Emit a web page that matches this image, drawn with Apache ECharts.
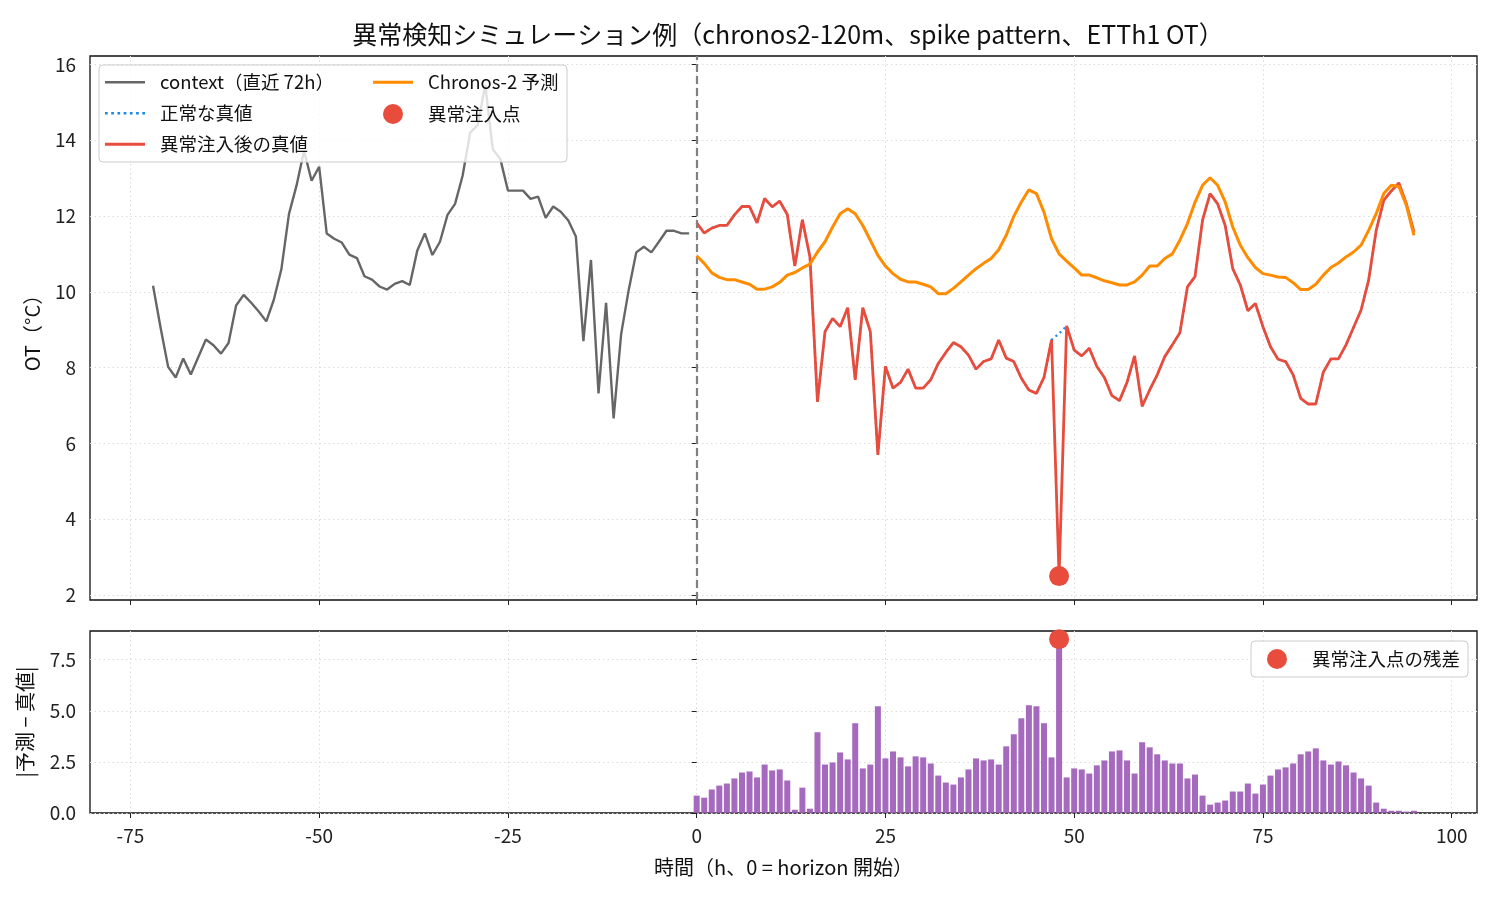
<!DOCTYPE html>
<html lang="ja">
<head>
    <meta charset="UTF-8">
    <title>異常検知シミュレーション例</title>
    <script src="https://cdn.jsdelivr.net/npm/echarts@6.0.0/dist/echarts.min.js"></script>
    <style>
        html, body { margin: 0; padding: 0; background: #fff; }
        #chart { width: 1500px; height: 900px; }
    </style>
</head>
<body>
<div id="chart"></div>
<script>
    // context: 直近 72h (x = -72 .. -1)
    var contextStart = -72
    var contextValues = [
        10.16, 9.05, 8.02, 7.74, 8.24, 7.82, 8.28, 8.74, 8.59, 8.37,
        8.65, 9.64, 9.92, 9.71, 9.48, 9.22, 9.79, 10.6, 12.05, 12.8,
        13.72, 12.93, 13.3, 11.54, 11.4, 11.3, 10.98, 10.89, 10.41, 10.32,
        10.14, 10.06, 10.21, 10.28, 10.18, 11.09, 11.54, 10.97, 11.32, 12.03,
        12.32, 13.06, 14.2, 14.4, 15.45, 13.76, 13.5, 12.67, 12.67, 12.67,
        12.45, 12.51, 11.95, 12.25, 12.11, 11.88, 11.46, 8.70, 10.84, 7.32,
        9.71, 6.66, 8.89, 10.05, 11.04, 11.19, 11.04, 11.32, 11.61, 11.61,
        11.54, 11.54
    ]
    // horizon: x = 0 .. 95
    var normalTruth = [
        11.82, 11.55, 11.68, 11.75, 11.75, 12.03, 12.25, 12.25, 11.82, 12.46,
        12.24, 12.39, 12.04, 10.68, 11.9, 10.92, 7.1, 8.95, 9.3, 9.08,
        9.58, 7.68, 9.58, 8.95, 5.7, 8.03, 7.46, 7.61, 7.96, 7.46,
        7.46, 7.68, 8.11, 8.4, 8.66, 8.55, 8.33, 7.96, 8.16, 8.23,
        8.73, 8.25, 8.16, 7.72, 7.41, 7.32, 7.74, 8.73, 8.9, 9.1,
        8.46, 8.31, 8.51, 8.03, 7.74, 7.26, 7.13, 7.61, 8.31, 6.98,
        7.41, 7.81, 8.29, 8.6, 8.92, 10.13, 10.4, 11.89, 12.59, 12.32,
        11.75, 10.61, 10.18, 9.5, 9.69, 9.08, 8.55, 8.22, 8.16, 7.81,
        7.19, 7.04, 7.04, 7.88, 8.23, 8.23, 8.6, 9.06, 9.52, 10.31,
        11.62, 12.41, 12.66, 12.87, 12.32, 11.58
    ]
    var injectedTruth = [
        11.82, 11.55, 11.68, 11.75, 11.75, 12.03, 12.25, 12.25, 11.82, 12.46,
        12.24, 12.39, 12.04, 10.68, 11.9, 10.92, 7.1, 8.95, 9.3, 9.08,
        9.58, 7.68, 9.58, 8.95, 5.7, 8.03, 7.46, 7.61, 7.96, 7.46,
        7.46, 7.68, 8.11, 8.4, 8.66, 8.55, 8.33, 7.96, 8.16, 8.23,
        8.73, 8.25, 8.16, 7.72, 7.41, 7.32, 7.74, 8.73, 2.5, 9.1,
        8.46, 8.31, 8.51, 8.03, 7.74, 7.26, 7.13, 7.61, 8.31, 6.98,
        7.41, 7.81, 8.29, 8.6, 8.92, 10.13, 10.4, 11.89, 12.59, 12.32,
        11.75, 10.61, 10.18, 9.5, 9.69, 9.08, 8.55, 8.22, 8.16, 7.81,
        7.19, 7.04, 7.04, 7.88, 8.23, 8.23, 8.6, 9.06, 9.52, 10.31,
        11.62, 12.41, 12.66, 12.87, 12.32, 11.58
    ]
    var forecast = [
        10.95, 10.75, 10.5, 10.38, 10.32, 10.32, 10.26, 10.2, 10.07, 10.07,
        10.13, 10.25, 10.44, 10.51, 10.63, 10.73, 11.05, 11.32, 11.71, 12.06,
        12.19, 12.06, 11.75, 11.36, 10.96, 10.68, 10.48, 10.33, 10.26, 10.26,
        10.2, 10.13, 9.95, 9.95, 10.09, 10.26, 10.44, 10.61, 10.75, 10.88,
        11.11, 11.49, 11.99, 12.37, 12.69, 12.59, 12.1, 11.4, 11.0, 10.81,
        10.63, 10.44, 10.44, 10.37, 10.29, 10.24, 10.18, 10.18, 10.26, 10.44,
        10.68, 10.68, 10.88, 11.0, 11.36, 11.8, 12.36, 12.81, 13.01, 12.81,
        12.37, 11.71, 11.23, 10.9, 10.64, 10.48, 10.44, 10.39, 10.38, 10.24,
        10.06, 10.06, 10.2, 10.44, 10.64, 10.76, 10.92, 11.05, 11.23, 11.62,
        12.06, 12.59, 12.81, 12.78, 12.28, 11.49
    ]
    var residual = [
        0.85, 0.75, 1.15, 1.34, 1.44, 1.69, 1.98, 2.03, 1.74, 2.37,
        2.08, 2.13, 1.59, 0.16, 1.24, 0.21, 3.95, 2.37, 2.47, 2.96,
        2.62, 4.39, 2.18, 2.37, 5.22, 2.67, 3.01, 2.72, 2.28, 2.77,
        2.72, 2.42, 1.83, 1.49, 1.39, 1.74, 2.13, 2.67, 2.57, 2.62,
        2.37, 3.26, 3.85, 4.63, 5.27, 5.22, 4.39, 2.72, 8.5, 1.74,
        2.18, 2.13, 1.93, 2.33, 2.57, 3.01, 3.06, 2.57, 1.93, 3.46,
        3.21, 2.87, 2.57, 2.42, 2.42, 1.69, 1.88, 0.85, 0.41, 0.51,
        0.61, 1.05, 1.05, 1.44, 0.95, 1.39, 1.83, 2.13, 2.23, 2.42,
        2.87, 3.01, 3.16, 2.57, 2.37, 2.52, 2.33, 1.98, 1.69, 1.34,
        0.51, 0.21, 0.11, 0.11, 0.07, 0.11
    ]
    var anomalyIndex = 48
    var anomalyValue = 2.5
    var anomalyResidual = 8.5

    var xTicks = [-75, -50, -25, 0, 25, 50, 75, 100]
    var yTicksTop = [2, 4, 6, 8, 10, 12, 14, 16]
    var yTicksBottom = [0, 2.5, 5.0, 7.5]

    var FONT = 'Noto Sans CJK JP'

    function pairs(start, arr) {
        var out = []
        for (var i = 0; i < arr.length; i++) out.push([start + i, arr[i]])
        return out
    }

    // legend line samples
    function lineIcon(h) { return 'path://M0,0H40V' + h + 'H0Z' }
    var dotIcon = 'path://M1,0h2.6v2.6h-2.6z M7,0h2.6v2.6h-2.6z M13,0h2.6v2.6h-2.6z M19,0h2.6v2.6h-2.6z M25,0h2.6v2.6h-2.6z M31,0h2.6v2.6h-2.6z M37,0h2.6v2.6h-2.6z'

    var gridLine = { show: true, lineStyle: { color: '#dcdcdc', type: [1.5, 3], width: 1 } }
    var tickStyle = { color: '#222', width: 1 }
    var labelStyle = { color: '#222', fontSize: 19, fontFamily: FONT }
    var legendText = { fontSize: 18.5, color: '#111', fontFamily: FONT, padding: [0, 0, 0, 10] }

    var myChart = echarts.init(document.getElementById('chart'))

    var option = {
        backgroundColor: '#fff',
        animation: false,
        textStyle: { fontFamily: FONT },
        title: {
            text: '異常検知シミュレーション例（chronos2-120m、spike pattern、ETTh1 OT）',
            left: 783, top: 17, textAlign: 'center',
            textStyle: { fontSize: 25, fontWeight: 'normal', color: '#111', fontFamily: FONT }
        },
        grid: [
            { left: 90, right: 23, top: 56, height: 544, show: true, borderColor: '#111', borderWidth: 1.3, backgroundColor: 'transparent' },
            { left: 90, right: 23, top: 631, height: 182, show: true, borderColor: '#111', borderWidth: 1.3, backgroundColor: 'transparent' }
        ],
        graphic: [{
            type: 'rect', z: 150, zlevel: 0,
            shape: { x: 99, y: 65, width: 468, height: 97, r: 4 },
            style: { fill: 'rgba(255,255,255,0.8)', stroke: '#cccccc', lineWidth: 1 }
        }, {
            type: 'rect', z: 150, zlevel: 0,
            shape: { x: 1251, y: 641, width: 217, height: 36, r: 4 },
            style: { fill: 'rgba(255,255,255,0.8)', stroke: '#cccccc', lineWidth: 1 }
        }],
        legend: [{
            data: [
                { name: 'context（直近 72h）', icon: lineIcon(2.4) },
                { name: '正常な真値', icon: dotIcon },
                { name: '異常注入後の真値', icon: lineIcon(2.8) }
            ],
            orient: 'vertical', left: 100, top: 68, z: 200,
            itemWidth: 40, itemHeight: 20, itemGap: 12.5,
            textStyle: legendText
        }, {
            data: [
                { name: 'Chronos-2 予測', icon: lineIcon(3) },
                { name: '異常注入点', icon: 'circle' }
            ],
            orient: 'vertical', left: 368, top: 68, z: 200,
            itemWidth: 40, itemHeight: 20, itemGap: 12.5,
            textStyle: legendText
        }, {
            data: [{ name: '異常注入点の残差', icon: 'circle' }],
            orient: 'vertical', left: 1262, top: 644, z: 200,
            itemWidth: 40, itemHeight: 20,
            textStyle: legendText
        }],
        xAxis: [{
            gridIndex: 0, type: 'value', min: -80.35, max: 103.35,
            axisLine: { show: false },
            axisTick: { show: true, customValues: xTicks, length: 5, lineStyle: tickStyle },
            axisLabel: { show: false, customValues: xTicks },
            splitLine: gridLine
        }, {
            gridIndex: 1, type: 'value', min: -80.35, max: 103.35,
            name: '時間（h、0 = horizon 開始）', nameLocation: 'middle', nameGap: 44,
            nameTextStyle: { fontSize: 20, color: '#111', fontFamily: FONT },
            axisLine: { show: false },
            axisTick: { show: true, customValues: xTicks, length: 5, lineStyle: tickStyle },
            axisLabel: Object.assign({ customValues: xTicks, margin: 13 }, labelStyle),
            splitLine: gridLine
        }],
        yAxis: [{
            gridIndex: 0, type: 'value', min: 1.87, max: 16.22,
            name: 'OT（°C）', nameLocation: 'middle', nameGap: 48, nameRotate: 90,
            nameTextStyle: { fontSize: 20, color: '#111', fontFamily: FONT },
            axisLine: { show: false },
            axisTick: { show: true, customValues: yTicksTop, length: 5, lineStyle: tickStyle },
            axisLabel: Object.assign({ customValues: yTicksTop, margin: 14 }, labelStyle),
            splitLine: gridLine
        }, {
            gridIndex: 1, type: 'value', min: 0, max: 8.9,
            name: '|予測 − 真値|', nameLocation: 'middle', nameGap: 55, nameRotate: 90,
            nameTextStyle: { fontSize: 20, color: '#111', fontFamily: FONT },
            axisLine: { show: false },
            axisTick: { show: true, customValues: yTicksBottom, length: 5, lineStyle: tickStyle },
            axisLabel: Object.assign({
                customValues: yTicksBottom, margin: 14,
                formatter: function (v) { return v.toFixed(1) }
            }, labelStyle),
            splitLine: gridLine
        }],
        series: [{
            name: 'context（直近 72h）', type: 'line', xAxisIndex: 0, yAxisIndex: 0,
            data: pairs(contextStart, contextValues), symbol: 'none',
            lineStyle: { color: '#666666', width: 2.4 }, itemStyle: { color: '#666666' },
            z: 2,
            markLine: {
                silent: true, symbol: 'none', label: { show: false },
                lineStyle: { color: '#808080', type: [8, 4], width: 2.2, opacity: 1 },
                data: [{ xAxis: 0 }]
            }
        }, {
            name: '正常な真値', type: 'line', xAxisIndex: 0, yAxisIndex: 0,
            data: pairs(0, normalTruth), symbol: 'none',
            lineStyle: { color: '#1e88e5', width: 2.2, type: [2, 3.5] }, itemStyle: { color: '#1e88e5' },
            z: 3
        }, {
            name: '異常注入後の真値', type: 'line', xAxisIndex: 0, yAxisIndex: 0,
            data: pairs(0, injectedTruth), symbol: 'none',
            lineStyle: { color: '#e74c3c', width: 2.8 }, itemStyle: { color: '#e74c3c' },
            z: 4
        }, {
            name: 'Chronos-2 予測', type: 'line', xAxisIndex: 0, yAxisIndex: 0,
            data: pairs(0, forecast), symbol: 'none',
            lineStyle: { color: '#ff8c00', width: 3 }, itemStyle: { color: '#ff8c00' },
            z: 5
        }, {
            name: '異常注入点', type: 'scatter', xAxisIndex: 0, yAxisIndex: 0,
            data: [[anomalyIndex, anomalyValue]], symbolSize: 20,
            itemStyle: { color: '#e74c3c', opacity: 1 }, z: 6
        }, {
            name: '残差', type: 'bar', xAxisIndex: 1, yAxisIndex: 1,
            data: pairs(0, residual), barWidth: 6,
            itemStyle: { color: '#9b59b6', opacity: 0.9 }, z: 2
        }, {
            name: '異常注入点の残差', type: 'scatter', xAxisIndex: 1, yAxisIndex: 1,
            data: [[anomalyIndex, anomalyResidual]], symbolSize: 20,
            itemStyle: { color: '#e74c3c', opacity: 1 }, z: 6
        }]
    }
    myChart.setOption(option)
</script>
</body>
</html>
